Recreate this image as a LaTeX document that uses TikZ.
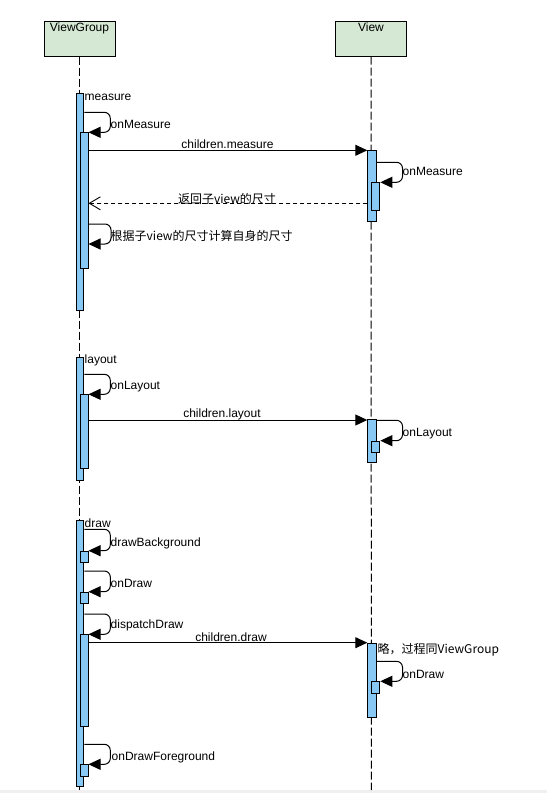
\documentclass[tikz,border=0pt]{standalone}
\usepackage{fontspec}
\setmainfont{Liberation Sans}
\newfontfamily\cjk{Noto Sans CJK SC}
\usetikzlibrary{arrows.meta}
\definecolor{hdrfill}{RGB}{213,232,212}
\definecolor{actfill}{RGB}{136,200,245}
\definecolor{bandgray}{RGB}{240,240,240}
\tikzset{
  hdr/.style={draw, line width=1pt, fill=hdrfill, minimum width=71pt, minimum height=35pt, inner sep=0pt},
  lifeline/.style={line width=1pt, dash pattern=on 8pt off 3pt},
  act/.style={draw, line width=1pt, fill=actfill, inner sep=0pt, anchor=north west},
  msg/.style={line width=1pt, -{Triangle[length=12pt,width=11pt]}},
  selfcall/.style={line width=1pt, rounded corners=6pt, -{Triangle[length=12pt,width=11pt]}},
  ret/.style={line width=0.9pt, dash pattern=on 4pt off 3pt, -{Straight Barb[length=11pt,width=13pt,line width=0.9pt]}},
  lbl/.style={inner sep=0pt, font=\fontsize{12}{14}\selectfont},
}
\begin{document}
\begin{tikzpicture}[x=1pt,y=-1pt]
\useasboundingbox (0,0) rectangle (547,793);
\fill[bandgray] (0,790) rectangle (547,793);
% headers
\node[hdr, label={[lbl, anchor=north, yshift=-2.5pt]north:ViewGroup}] (vg) at (79.5,38.5) {};
\node[hdr, label={[lbl, anchor=north, yshift=-2.5pt]north:View}] (v) at (371,38.5) {};
\coordinate (vgEnd) at (79.5,790);
\coordinate (vEnd) at (371.4,790);
\draw[lifeline] (vg.south) -- (vgEnd);
\draw[lifeline] (v.south) -- (vEnd);

% ---------- measure ----------
\node[act, minimum width=7.6pt, minimum height=216.7pt] (vgM1) at (75.7,93.3) {};
\node[act, minimum width=8pt, minimum height=136pt] (vgM2) at (79.5,132.3) {};
\node[act, minimum width=8.2pt, minimum height=71pt] (vM1) at (367.3,150.3) {};
\node[act, minimum width=8pt, minimum height=28pt] (vM2) at (371.3,182.3) {};

\node[lbl, anchor=west] (tMeasure) at (84.5,97) {measure};
\draw[selfcall] (vgM1.north east |- 0,112.3) -- ++(26,0) -- ++(0,20) -- (vgM2.north east);
\node[lbl, anchor=west] (tOnMeasure) at (110.5,124.5) {onMeasure};
\draw[msg] (vgM2.east |- 0,150.3) -- (vM1.north west);
\node[lbl] (tChM) at (227.5,144) {children.measure};
\draw[selfcall] (vM1.north east |- 0,162.3) -- ++(26,0) -- ++(0,20) -- (vM2.north east);
\node[lbl, anchor=west] (tVOnMeasure) at (402.5,171) {onMeasure};
\draw[ret] (vM1.west |- 0,203.3) -- (vgM2.east |- 0,203.3);
\node[lbl] (tRet) at (227,198.5) {\cjk 返回子view的尺寸};
\draw[selfcall] (vgM2.east |- 0,224) -- ++(22.5,0) -- ++(0,20) -- (vgM2.east |- 0,244);
\node[lbl, anchor=west] (tCalc) at (110.5,235.5) {\cjk 根据子view的尺寸计算自身的尺寸};

% ---------- layout ----------
\node[act, minimum width=7.6pt, minimum height=122.7pt] (vgL1) at (75.7,357.3) {};
\node[act, minimum width=8pt, minimum height=74pt] (vgL2) at (79.5,394.3) {};
\node[act, minimum width=8.2pt, minimum height=42.7pt] (vL1) at (367.3,419.3) {};
\node[act, minimum width=8pt, minimum height=11.6pt] (vL2) at (371.3,440.7) {};

\node[lbl, anchor=west] (tLayout) at (84.5,360.5) {layout};
\draw[selfcall] (vgL1.north east |- 0,374.3) -- ++(26,0) -- ++(0,20) -- (vgL2.north east);
\node[lbl, anchor=west] (tOnLayout) at (110.5,386.5) {onLayout};
\draw[msg] (vgL2.east |- 0,420) -- (vL1.west |- 0,420);
\node[lbl] (tChL) at (222,414.5) {children.layout};
\draw[selfcall] (vL1.north east |- 0,420.3) -- ++(26,0) -- ++(0,20.4) -- (vL2.north east);
\node[lbl, anchor=west] (tVOnLayout) at (402.5,433.5) {onLayout};

% ---------- draw ----------
\node[act, minimum width=7.6pt, minimum height=265.7pt] (vgD1) at (75.7,520) {};
\node[act, minimum width=8pt, minimum height=11pt] (vgD2) at (79.5,550.7) {};
\node[act, minimum width=8pt, minimum height=11pt] (vgD3) at (79.5,591.7) {};
\node[act, minimum width=8pt, minimum height=91.7pt] (vgD4) at (79.5,634.3) {};
\node[act, minimum width=8pt, minimum height=11.7pt] (vgD5) at (79.5,764.3) {};
\node[act, minimum width=8.2pt, minimum height=74pt] (vD1) at (367.3,643.3) {};
\node[act, minimum width=8pt, minimum height=12pt] (vD2) at (371.3,681.3) {};

\node[lbl, anchor=west] (tDraw) at (84.5,523.5) {draw};
\draw[selfcall] (vgD1.north east |- 0,529.3) -- ++(26,0) -- ++(0,21.4) -- (vgD2.north east);
\node[lbl, anchor=west] (tBg) at (110.5,543.5) {drawBackground};
\draw[selfcall] (vgD1.north east |- 0,571) -- ++(26,0) -- ++(0,20.7) -- (vgD3.north east);
\node[lbl, anchor=west] (tOnDraw) at (110.5,583.5) {onDraw};
\draw[selfcall] (vgD1.north east |- 0,614) -- ++(26,0) -- ++(0,20.3) -- (vgD4.north east);
\node[lbl, anchor=west] (tDisp) at (110.5,625) {dispatchDraw};
\draw[msg] (vgD4.east |- 0,642.7) -- (vD1.west |- 0,642.7);
\node[lbl] (tChD) at (231,637.5) {children.draw};
\draw[selfcall] (vgD1.north east |- 0,744.3) -- ++(26,0) -- ++(0,20) -- (vgD5.north east);
\node[lbl, anchor=west] (tFg) at (111.5,757.5) {onDrawForeground};
\node[lbl, anchor=west] (tSkip) at (377.5,649.5) {\cjk 略，过程同ViewGroup};
\draw[selfcall] (vD1.north east |- 0,661.3) -- ++(26,0) -- ++(0,20) -- (vD2.north east);
\node[lbl, anchor=west] (tVOnDraw) at (402.5,674) {onDraw};
\end{tikzpicture}
\end{document}
